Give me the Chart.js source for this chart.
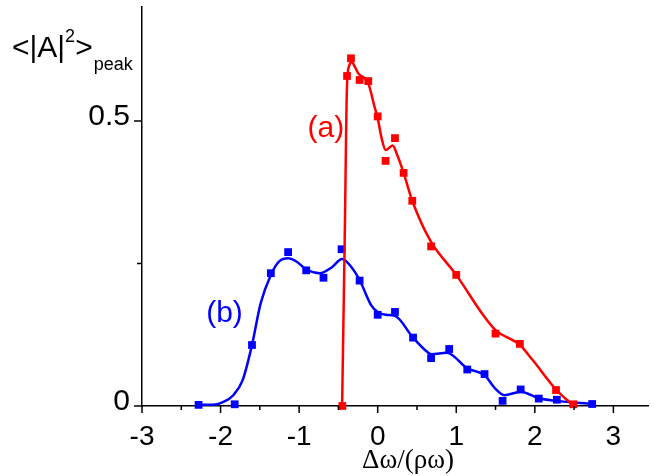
<!DOCTYPE html>
<html><head><meta charset="utf-8">
<script src="https://cdn.jsdelivr.net/npm/chart.js@4.4.1/dist/chart.umd.min.js"></script>
<style>html,body{margin:0;padding:0;background:#fff}#wrap{width:654px;height:476px}</style>
</head><body><div id="wrap"><canvas id="c" width="654" height="476"></canvas></div>
<script>
// ---- data ----
const redPtsX = [-0.45,-0.39,-0.34,-0.23,-0.12,0.00,0.10,0.22,0.33,0.44,0.68,1.00,1.50,1.81,2.27,2.49];
const redPtsY = [0.000,0.579,0.610,0.572,0.570,0.508,0.430,0.470,0.409,0.360,0.280,0.230,0.127,0.109,0.028,0.003];
const redCurveX = [-0.453,-0.42,-0.39,-0.36,-0.33,-0.29,-0.25,-0.12,-0.04,0.00,0.05,0.10,0.19,0.25,0.33,0.44,0.67,1.00,1.34,1.50,1.81,1.97,2.27,2.47];
const redCurveY = [0.000,0.290,0.565,0.598,0.603,0.595,0.584,0.566,0.525,0.505,0.470,0.449,0.457,0.440,0.409,0.360,0.290,0.230,0.160,0.133,0.107,0.081,0.029,0.003];
const bluePtsX = [-2.28,-1.82,-1.60,-1.36,-1.14,-0.91,-0.69,-0.46,-0.23,0.00,0.22,0.45,0.68,0.91,1.14,1.36,1.59,1.82,2.05,2.28,2.73];
const bluePtsY = [0.002,0.003,0.107,0.233,0.270,0.238,0.225,0.275,0.220,0.160,0.165,0.120,0.084,0.100,0.064,0.056,0.009,0.029,0.013,0.011,0.0035];
const blueCurveX = [-2.28,-2.10,-1.95,-1.845,-1.72,-1.60,-1.49,-1.36,-1.26,-1.14,-1.03,-0.914,-0.737,-0.587,-0.453,-0.336,-0.23,-0.084,0.00,0.10,0.22,0.45,0.63,0.683,0.88,1.14,1.36,1.50,1.61,1.82,2.05,2.28,2.73];
const blueCurveY = [0.002,0.002,0.008,0.018,0.045,0.107,0.180,0.230,0.253,0.259,0.253,0.240,0.233,0.243,0.258,0.244,0.221,0.177,0.165,0.160,0.158,0.120,0.095,0.091,0.0935,0.066,0.054,0.030,0.019,0.025,0.0135,0.009,0.0035];
const xTickLabels = ['-3','-2','-1','0','1','2','3'];
const xMajorTicks = [-3,-2,-1,0,1,2,3];
const xMinorTicks = [-2.5,-1.5,-0.5,0.5,1.5,2.5];
const yTickLabels = ['0','0.5'];
const yMajorTicks = [0,0.5];
const yMinorTicks = [0.25];
const seriesLabels = ['(a)','(b)'];
const seriesLabelPos = [[-0.66,0.487],[-1.95,0.161]];
const xTitle = 'Δω/(ρω)';

const RED = '#ff0000', BLUE = '#0000ff';
const zip = (xs, ys) => xs.map((x, i) => ({x, y: ys[i]}));

const decor = {
  id: 'decor',
  afterDraw(chart) {
    const ctx = chart.ctx, xs = chart.scales.x, ys = chart.scales.y;
    ctx.save();
    ctx.strokeStyle = '#000'; ctx.lineWidth = 1.5;
    const yb = ys.getPixelForValue(0);
    const xl = xs.getPixelForValue(-3);
    ctx.beginPath();
    xMajorTicks.forEach(v => { const p = xs.getPixelForValue(v); ctx.moveTo(p, yb); ctx.lineTo(p, yb + 7); });
    xMinorTicks.forEach(v => { const p = xs.getPixelForValue(v); ctx.moveTo(p, yb); ctx.lineTo(p, yb + 4); });
    yMajorTicks.forEach(v => { const p = ys.getPixelForValue(v); ctx.moveTo(xl - 8, p); ctx.lineTo(xl, p); });
    yMinorTicks.forEach(v => { const p = ys.getPixelForValue(v); ctx.moveTo(xl - 5, p); ctx.lineTo(xl, p); });
    ctx.stroke();
    // series labels
    ctx.font = '30px "Liberation Sans", Arial, sans-serif';
    ctx.textAlign = 'center'; ctx.textBaseline = 'middle';
    [RED, BLUE].forEach((c, i) => {
      ctx.fillStyle = c;
      ctx.fillText(seriesLabels[i], xs.getPixelForValue(seriesLabelPos[i][0]), ys.getPixelForValue(seriesLabelPos[i][1]));
    });
    // y title  <|A|^2>_peak
    ctx.fillStyle = '#000'; ctx.textAlign = 'left'; ctx.textBaseline = 'alphabetic';
    let x = 12;
    ctx.font = '30px "Liberation Sans", Arial, sans-serif';
    ctx.fillText('<|A|', x, 57); x += ctx.measureText('<|A|').width;
    ctx.font = '18px "Liberation Sans", Arial, sans-serif';
    ctx.fillText('2', x, 42); x += ctx.measureText('2').width;
    ctx.font = '30px "Liberation Sans", Arial, sans-serif';
    ctx.fillText('>', x, 57); x += ctx.measureText('>').width;
    ctx.font = '18px "Liberation Sans", Arial, sans-serif';
    ctx.fillText('peak', x + 1, 70);
    // x title
    ctx.font = '27px "Liberation Serif", "Times New Roman", serif';
    ctx.textAlign = 'center';
    ctx.fillText(xTitle, 408, 468);
    ctx.restore();
  }
};

new Chart(document.getElementById('c'), {
  type: 'scatter',
  data: {
    datasets: [
      {data: zip(redPtsX, redPtsY), showLine: false, pointStyle: 'rect', pointRadius: 5.5, backgroundColor: RED, borderWidth: 0, clip: false, order: 1},
      {data: zip(redCurveX, redCurveY), showLine: true, pointRadius: 0, borderColor: RED, borderWidth: 2.5, cubicInterpolationMode: 'monotone', fill: false, clip: false, order: 2},
      {data: zip(bluePtsX, bluePtsY), showLine: false, pointStyle: 'rect', pointRadius: 5.5, backgroundColor: BLUE, borderWidth: 0, clip: false, order: 3},
      {data: zip(blueCurveX, blueCurveY), showLine: true, pointRadius: 0, borderColor: BLUE, borderWidth: 2.5, cubicInterpolationMode: 'monotone', fill: false, clip: false, order: 4}
    ]
  },
  options: {
    responsive: false, animation: false, devicePixelRatio: 1,
    layout: {padding: {top: 7, right: 0, left: 0, bottom: 0}},
    plugins: {legend: {display: false}, tooltip: {enabled: false}},
    scales: {
      x: {
        type: 'linear', position: 'bottom', min: -3, max: 3.447,
        grid: {display: false, drawTicks: false},
        border: {display: true, color: '#000', width: 1.5},
        ticks: {
          stepSize: 1, includeBounds: false, autoSkip: false, maxRotation: 0, padding: 14,
          color: '#000', font: {family: '"Liberation Sans", Arial, sans-serif', size: 28},
          callback: v => { const i = xMajorTicks.indexOf(v); return i >= 0 ? xTickLabels[i] : ''; }
        },
        afterFit: s => { s.height = 70; s.paddingLeft = 0; s.paddingRight = 0; }
      },
      y: {
        type: 'linear', position: 'left', min: 0, max: 0.7,
        grid: {display: false, drawTicks: false},
        border: {display: true, color: '#000', width: 1.5},
        ticks: {
          stepSize: 0.25, includeBounds: false, padding: 12, labelOffset: -4,
          color: '#000', font: {family: '"Liberation Sans", Arial, sans-serif', size: 30},
          callback: v => { const i = yMajorTicks.indexOf(v); return i >= 0 ? yTickLabels[i] : ''; }
        },
        afterFit: s => { s.width = 142; s.paddingTop = 0; s.paddingBottom = 0; }
      }
    }
  },
  plugins: [decor]
});
</script></body></html>
